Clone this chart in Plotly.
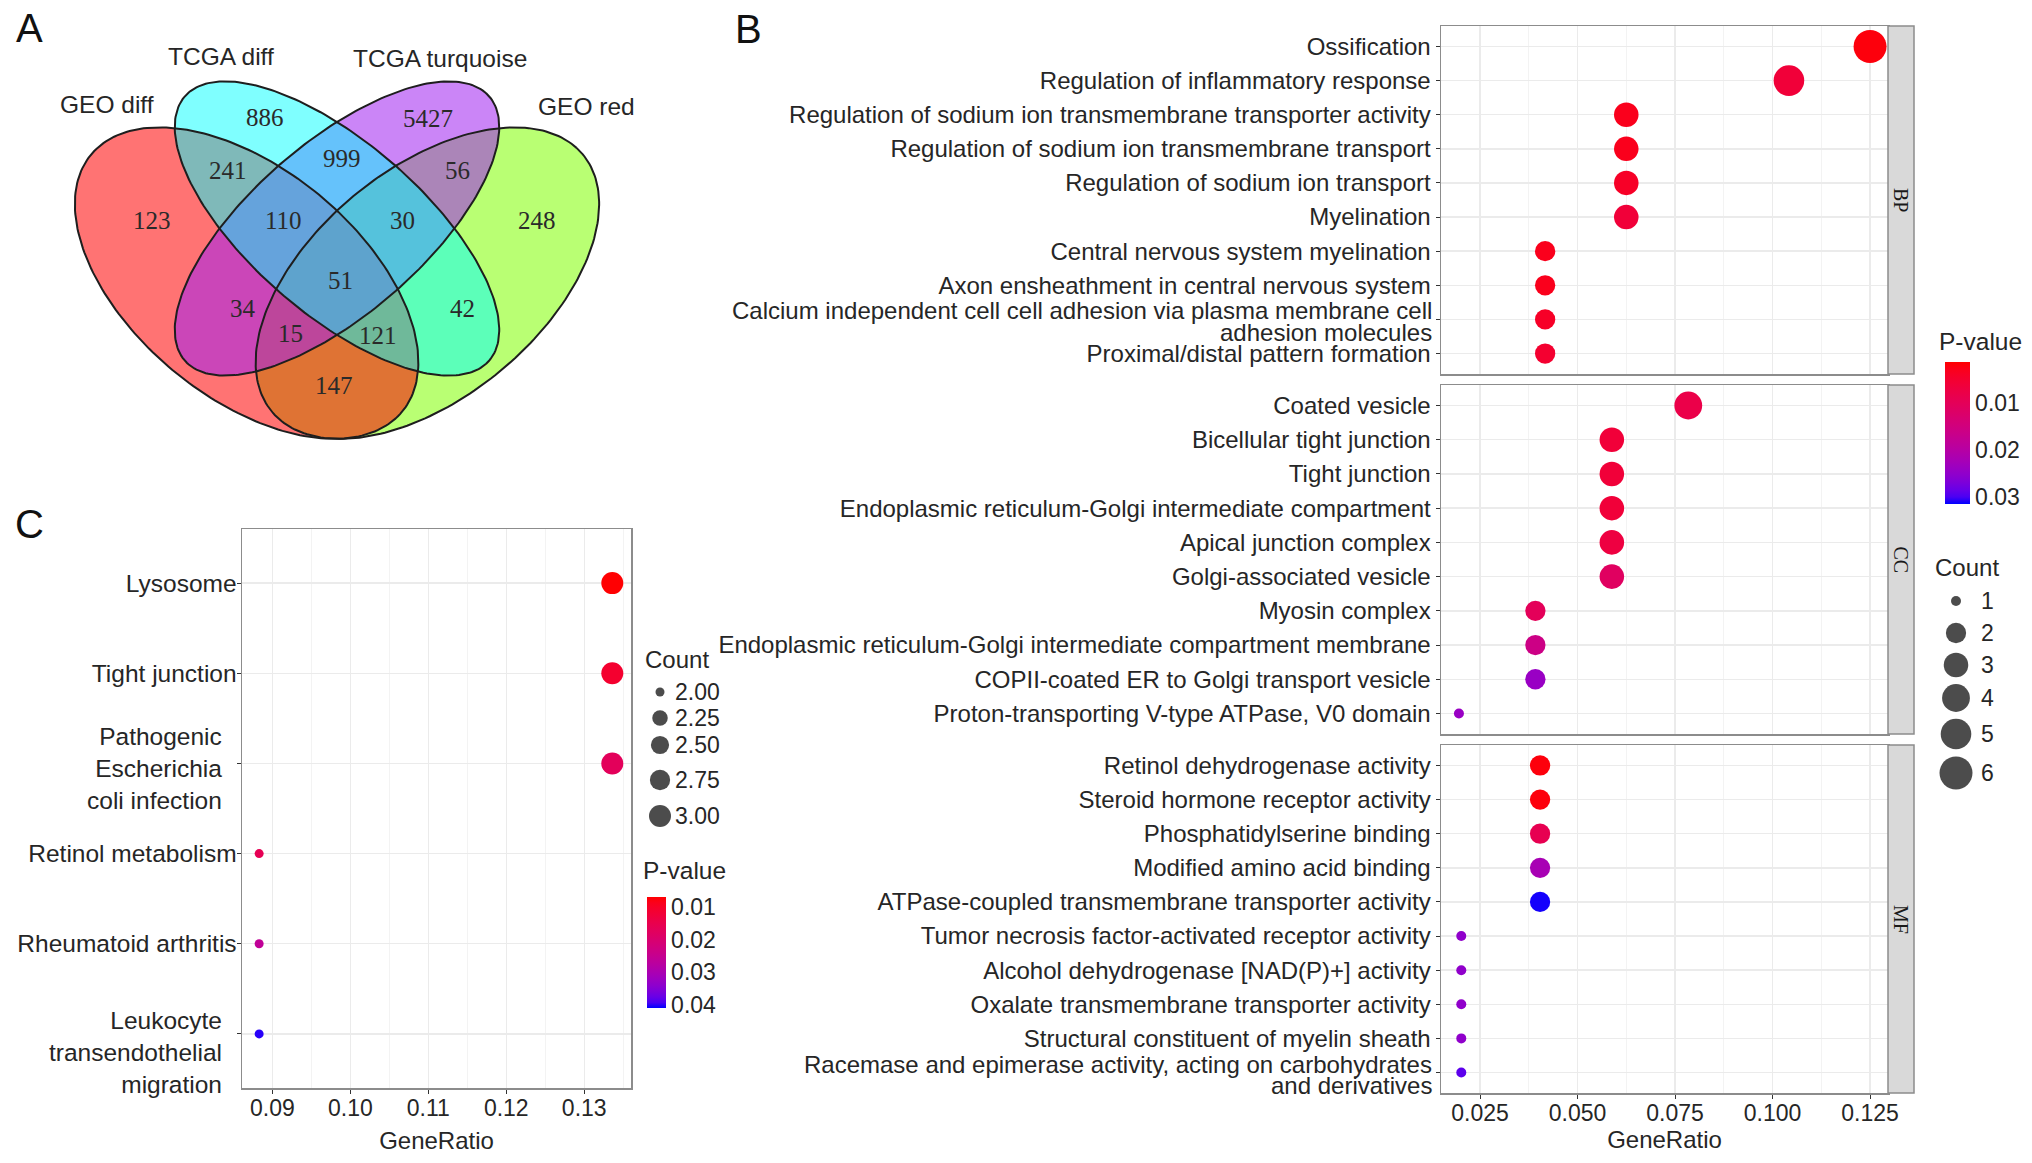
import numpy as np
import plotly.graph_objects as go

W, H = 2032, 1163

# ---------------- DATA ----------------
# Panel A: Venn diagram
venn_sets = ["GEO diff", "TCGA diff", "TCGA turquoise", "GEO red"]
venn_region_counts = [886, 5427, 241, 999, 56, 123, 110, 30, 248, 51, 34, 42, 15, 121, 147]

# Panel B: GO enrichment
bp_terms = ["Ossification", "Regulation of inflammatory response",
            "Regulation of sodium ion transmembrane transporter activity",
            "Regulation of sodium ion transmembrane transport",
            "Regulation of sodium ion transport", "Myelination",
            "Central nervous system myelination",
            "Axon ensheathment in central nervous system",
            "Calcium independent cell cell adhesion via plasma membrane cell<br>adhesion molecules",
            "Proximal/distal pattern formation"]
bp_ratio = [0.1250, 0.1042, 0.0625, 0.0625, 0.0625, 0.0625, 0.0417, 0.0417, 0.0417, 0.0417]
bp_count = [6, 5, 3, 3, 3, 3, 2, 2, 2, 2]
bp_pvalue = [0.002, 0.006, 0.003, 0.003, 0.004, 0.006, 0.003, 0.003, 0.004, 0.005]

cc_terms = ["Coated vesicle", "Bicellular tight junction", "Tight junction",
            "Endoplasmic reticulum-Golgi intermediate compartment",
            "Apical junction complex", "Golgi-associated vesicle", "Myosin complex",
            "Endoplasmic reticulum-Golgi intermediate compartment membrane",
            "COPII-coated ER to Golgi transport vesicle",
            "Proton-transporting V-type ATPase, V0 domain"]
cc_ratio = [0.0784, 0.0588, 0.0588, 0.0588, 0.0588, 0.0588, 0.0392, 0.0392, 0.0392, 0.0196]
cc_count = [4, 3, 3, 3, 3, 3, 2, 2, 2, 1]
cc_pvalue = [0.008, 0.006, 0.006, 0.006, 0.007, 0.011, 0.010, 0.016, 0.024, 0.024]

mf_terms = ["Retinol dehydrogenase activity", "Steroid hormone receptor activity",
            "Phosphatidylserine binding", "Modified amino acid binding",
            "ATPase-coupled transmembrane transporter activity",
            "Tumor necrosis factor-activated receptor activity",
            "Alcohol dehydrogenase [NAD(P)+] activity",
            "Oxalate transmembrane transporter activity",
            "Structural constituent of myelin sheath",
            "Racemase and epimerase activity, acting on carbohydrates<br>and derivatives"]
mf_ratio = [0.0404, 0.0404, 0.0404, 0.0404, 0.0404, 0.0202, 0.0202, 0.0202, 0.0202, 0.0202]
mf_count = [2, 2, 2, 2, 2, 1, 1, 1, 1, 1]
mf_pvalue = [0.002, 0.002, 0.009, 0.022, 0.031, 0.025, 0.025, 0.025, 0.025, 0.029]

go_facets = ["BP", "CC", "MF"]
go_count_legend = [1, 2, 3, 4, 5, 6]
go_p_ticks = [0.01, 0.02, 0.03]

# Panel C: KEGG enrichment
kegg_terms = ["Lysosome", "Tight junction", "Pathogenic<br>Escherichia<br>coli infection",
              "Retinol metabolism", "Rheumatoid arthritis",
              "Leukocyte<br>transendothelial<br>migration"]
kegg_ratio = [0.1336, 0.1336, 0.1336, 0.0883, 0.0883, 0.0883]
kegg_count = [3, 3, 3, 2, 2, 2]
kegg_pvalue = [0.007, 0.011, 0.017, 0.016, 0.026, 0.040]
kegg_count_legend = [2.00, 2.25, 2.50, 2.75, 3.00]
kegg_p_ticks = [0.01, 0.02, 0.03, 0.04]

# ---------------- STYLE HELPERS ----------------
FONT = "Liberation Sans, Arial, sans-serif"
SERIF = "Liberation Serif, Times New Roman, serif"
TXT = "#262626"
LAB_SIZE = 24


def rgb_to_lab(rgb):
    def lin(c):
        c = c / 255
        return c / 12.92 if c <= 0.04045 else ((c + 0.055) / 1.055) ** 2.4
    r, g, b = [lin(c) for c in rgb]
    X = (0.4124 * r + 0.3576 * g + 0.1805 * b) / 0.95047
    Y = 0.2126 * r + 0.7152 * g + 0.0722 * b
    Z = (0.0193 * r + 0.1192 * g + 0.9505 * b) / 1.08883
    f = lambda t: t ** (1 / 3) if t > 0.008856 else 7.787 * t + 16 / 116
    fx, fy, fz = f(X), f(Y), f(Z)
    return (116 * fy - 16, 500 * (fx - fy), 200 * (fy - fz))


def lab_to_rgb(lab):
    L, a, b = lab
    fy = (L + 16) / 116
    fx = fy + a / 500
    fz = fy - b / 200
    finv = lambda f: f ** 3 if f ** 3 > 0.008856 else (f - 16 / 116) / 7.787
    X, Y, Z = finv(fx) * 0.95047, finv(fy), finv(fz) * 1.08883
    r = 3.2406 * X - 1.5372 * Y - 0.4986 * Z
    g = -0.9689 * X + 1.8758 * Y + 0.0415 * Z
    bb = 0.0557 * X - 0.2040 * Y + 1.0570 * Z

    def gam(c):
        c = min(max(c, 0), 1)
        return 12.92 * c if c <= 0.0031308 else 1.055 * c ** (1 / 2.4) - 0.055
    return tuple(int(round(255 * gam(c))) for c in (r, g, bb))


def lab_scale(c0, c1, n=21):
    l0, l1 = rgb_to_lab(c0), rgb_to_lab(c1)
    out = []
    for i in range(n):
        t = i / (n - 1)
        r, g, b = lab_to_rgb(tuple(l0[k] + (l1[k] - l0[k]) * t for k in range(3)))
        out.append([t, f"rgb({r},{g},{b})"])
    return out


PSCALE = lab_scale((0, 0, 255), (255, 0, 0))  # high p (blue) -> low p (red)


def size_b(c):
    return 10 + 23 * np.sqrt((c - 1) / 5)


def size_c(c):
    return 9 + 13 * np.sqrt(c - 2)


def pxx(x):
    return x / W


def pxy(y):
    return 1 - y / H


fig = go.Figure()
annotations = []

# ---------------- PANEL B ----------------
B_X = (1441, 1888)
B_PANELS_Y = [(26, 374), (385, 734), (745, 1093)]
B_ROW_PX = (B_PANELS_Y[0][1] - B_PANELS_Y[0][0]) / 10.2
go_data = [(bp_terms, bp_ratio, bp_count, bp_pvalue),
           (cc_terms, cc_ratio, cc_count, cc_pvalue),
           (mf_terms, mf_ratio, mf_count, mf_pvalue)]

axis_layout = {}
for i, (terms, ratio, count, pval) in enumerate(go_data):
    k = i + 2
    fig.add_trace(go.Scatter(
        x=ratio, y=list(range(len(terms))), mode="markers",
        marker=dict(size=[size_b(c) for c in count], color=[-p for p in pval],
                    coloraxis="coloraxis", line=dict(width=0), opacity=1),
        xaxis=f"x{k}", yaxis=f"y{k}", showlegend=False, hoverinfo="skip"))
    y0, y1 = B_PANELS_Y[i]
    last = (i == 2)
    ticktext = []
    for j, term in enumerate(terms):
        if "<br>" in term:
            ticktext.append("")
            lines = term.split("<br>")
            offsets_px = [-8.5, 13.0]
            for line, off in zip(lines, offsets_px):
                annotations.append(dict(
                    x=pxx(B_X[0] - 7), xref="paper", xanchor="right",
                    y=j + off / B_ROW_PX, yref=f"y{k}", yanchor="middle",
                    text=line, showarrow=False,
                    font=dict(family=FONT, size=LAB_SIZE, color=TXT)))
        else:
            ticktext.append(term)
    axis_layout[f"xaxis{k}"] = dict(
        domain=[pxx(B_X[0]), pxx(B_X[1])], anchor=f"y{k}", range=[0.0150, 0.1296],
        tick0=0.025, dtick=0.025, tickformat=".3f",
        showgrid=True, gridcolor="#EBEBEB", gridwidth=1.4,
        minor=dict(dtick=0.0125, tick0=0.0125, showgrid=True, gridcolor="#F3F3F3", gridwidth=1),
        showline=True, mirror=True, linecolor="#8C8C8C", linewidth=1.5, zeroline=False,
        ticks="outside" if last else "", ticklen=4, tickcolor="#333333",
        showticklabels=last, ticklabelstandoff=-5,
        tickfont=dict(family=FONT, size=23, color=TXT),
        title=dict(text="GeneRatio" if last else "", font=dict(family=FONT, size=24, color=TXT), standoff=6),
        automargin=False, fixedrange=True)
    axis_layout[f"yaxis{k}"] = dict(
        domain=[pxy(y1), pxy(y0)], anchor=f"x{k}", range=[len(terms) - 0.4, -0.6],
        tickmode="array", tickvals=list(range(len(terms))), ticktext=ticktext,
        showgrid=True, gridcolor="#EBEBEB", gridwidth=1.4,
        showline=True, mirror=True, linecolor="#8C8C8C", linewidth=1.5, zeroline=False,
        ticks="outside", ticklen=4, tickcolor="#333333",
        tickfont=dict(family=FONT, size=LAB_SIZE, color=TXT), automargin=False, fixedrange=True)

# ---------------- PANEL C ----------------
C_X = (242, 631)
C_Y = (529, 1088)
C_ROW_PX = (C_Y[1] - C_Y[0]) / 6.2
kegg_label_shift_px = [0, 0, 5, 0, 0, 19]   # vertical nudge of wrapped labels
fig.add_trace(go.Scatter(
    x=kegg_ratio, y=list(range(len(kegg_terms))), mode="markers",
    marker=dict(size=[size_c(c) for c in kegg_count], color=[-p for p in kegg_pvalue],
                coloraxis="coloraxis2", line=dict(width=0), opacity=1),
    xaxis="x5", yaxis="y5", showlegend=False, hoverinfo="skip"))
kegg_ticktext = []
for j, term in enumerate(kegg_terms):
    if "<br>" in term:
        kegg_ticktext.append("")
        annotations.append(dict(
            x=pxx(224), xref="paper", xanchor="right",
            y=j + kegg_label_shift_px[j] / C_ROW_PX, yref="y5", yanchor="middle",
            text=term, align="right", showarrow=False,
            font=dict(family=FONT, size=24.5, color=TXT)))
    else:
        kegg_ticktext.append(term)
axis_layout["xaxis5"] = dict(
    domain=[pxx(C_X[0]), pxx(C_X[1])], anchor="y5", range=[0.0861, 0.1360],
    tick0=0.09, dtick=0.01, tickformat=".2f",
    showgrid=True, gridcolor="#EBEBEB", gridwidth=1.4,
    minor=dict(dtick=0.005, tick0=0.085, showgrid=True, gridcolor="#F3F3F3", gridwidth=1),
    showline=True, mirror=True, linecolor="#8C8C8C", linewidth=1.5, zeroline=False,
    ticks="outside", ticklen=4, tickcolor="#333333", ticklabelstandoff=-5,
    tickfont=dict(family=FONT, size=23, color=TXT),
    title=dict(text="GeneRatio", font=dict(family=FONT, size=24, color=TXT), standoff=12),
    automargin=False, fixedrange=True)
axis_layout["yaxis5"] = dict(
    domain=[pxy(C_Y[1]), pxy(C_Y[0])], anchor="x5", range=[len(kegg_terms) - 0.4, -0.6],
    tickmode="array", tickvals=list(range(len(kegg_terms))), ticktext=kegg_ticktext,
    showgrid=True, gridcolor="#EBEBEB", gridwidth=1.4,
    showline=True, mirror=True, linecolor="#8C8C8C", linewidth=1.5, zeroline=False,
    ticks="outside", ticklen=4, tickcolor="#333333", ticklabelstandoff=-5,
    tickfont=dict(family=FONT, size=24.5, color=TXT), automargin=False, fixedrange=True)

# ---------------- OVERLAY (pixel space) ----------------
axis_layout["xaxis6"] = dict(domain=[0, 1], range=[0, W], visible=False, anchor="y6",
                             automargin=False, fixedrange=True)
axis_layout["yaxis6"] = dict(domain=[0, 1], range=[H, 0], visible=False, anchor="x6",
                             automargin=False, fixedrange=True)

# Venn geometry (unit space, y downward) -> pixels
VX0, VSX, VY0, VSY = 337.0, 602.6, 81.5, 546.4
venn_shapes = {  # cx, cy, a, b, angle
    "GEO diff": (0.35, 0.53, 0.35, 0.20, 45),
    "TCGA diff": (0.50, 0.43, 0.35, 0.15, 45),
    "TCGA turquoise": (0.50, 0.43, 0.35, 0.15, -45),
    "GEO red": (0.65, 0.53, 0.35, 0.20, -45),
}
venn_fill = {
    "GEO diff": "rgba(255,0,0,0.55)",
    "TCGA diff": "rgba(0,255,255,0.5)",
    "TCGA turquoise": "rgba(160,32,240,0.55)",
    "GEO red": "rgba(127,255,0,0.55)",
}
draw_order = ["GEO red", "GEO diff", "TCGA turquoise", "TCGA diff"]


def ellipse_px(cx, cy, a, b, ang, n=240):
    t = np.linspace(0, 2 * np.pi, n)
    th = np.radians(ang)
    xu = cx + a * np.cos(t) * np.cos(th) - b * np.sin(t) * np.sin(th)
    yu = cy + a * np.cos(t) * np.sin(th) + b * np.sin(t) * np.cos(th)
    return VX0 + (xu - 0.5) * VSX, VY0 + (yu - 0.161) * VSY


for name in draw_order:
    ex, ey = ellipse_px(*venn_shapes[name])
    fig.add_trace(go.Scatter(x=ex, y=ey, mode="lines", fill="toself",
                             fillcolor=venn_fill[name], line=dict(width=0),
                             xaxis="x6", yaxis="y6", showlegend=False, hoverinfo="skip"))
for name in draw_order:
    ex, ey = ellipse_px(*venn_shapes[name])
    fig.add_trace(go.Scatter(x=ex, y=ey, mode="lines", line=dict(width=2, color="#1e1e1e"),
                             xaxis="x6", yaxis="y6", showlegend=False, hoverinfo="skip"))

venn_label_pos = [(265, 117), (428, 118), (228, 170), (342, 158), (457, 170),
                  (152, 220), (283, 220), (402, 220), (537, 220), (340, 280),
                  (243, 308), (462, 308), (290, 333), (378, 335), (334, 385)]
for val, (x, y) in zip(venn_region_counts, venn_label_pos):
    annotations.append(dict(x=x, y=y, xref="x6", yref="y6", text=str(val), showarrow=False,
                            font=dict(family=SERIF, size=25, color="#2a2a2a")))
venn_set_pos = [(107, 104), (221, 56), (440, 58), (586, 106)]
for name, (x, y) in zip(venn_sets, venn_set_pos):
    annotations.append(dict(x=x, y=y, xref="x6", yref="y6", text=name, showarrow=False,
                            font=dict(family=FONT, size=24.5, color=TXT)))

# Panel letters
for letter, (x, y) in zip(["A", "B", "C"], [(29, 28), (748, 29), (29, 524)]):
    annotations.append(dict(x=x, y=y, xref="x6", yref="y6", text=letter, showarrow=False,
                            font=dict(family=FONT, size=40, color="#111111")))

# Facet strips
shapes = []
for name, (y0, y1) in zip(go_facets, B_PANELS_Y):
    shapes.append(dict(type="rect", xref="x6", yref="y6", x0=1888, x1=1914, y0=y0, y1=y1,
                       fillcolor="#D9D9D9", line=dict(color="#8C8C8C", width=1.5), layer="above"))
    annotations.append(dict(x=1901, y=(y0 + y1) / 2, xref="x6", yref="y6", text=name,
                            textangle=90, showarrow=False,
                            font=dict(family=SERIF, size=20, color="#1a1a1a")))

# Panel B count legend
b_leg_y = [601, 633, 665, 698, 734, 773]
fig.add_trace(go.Scatter(x=[1956] * len(go_count_legend), y=b_leg_y, mode="markers",
                         marker=dict(size=[size_b(c) for c in go_count_legend], color="black",
                                     line=dict(width=0)),
                         xaxis="x6", yaxis="y6", showlegend=False, hoverinfo="skip"))
for c, y in zip(go_count_legend, b_leg_y):
    annotations.append(dict(x=1979, y=y, xref="x6", yref="y6", text=str(c), showarrow=False,
                            xanchor="left", font=dict(family=FONT, size=23, color=TXT)))
annotations.append(dict(x=1933, y=567, xref="x6", yref="y6", text="Count", showarrow=False,
                        xanchor="left", font=dict(family=FONT, size=24, color=TXT)))
annotations.append(dict(x=1937, y=341, xref="x6", yref="y6", text="P-value", showarrow=False,
                        xanchor="left", font=dict(family=FONT, size=24.5, color=TXT)))

# Panel C count legend
c_leg_y = [692, 718, 745, 780, 816]
fig.add_trace(go.Scatter(x=[660] * len(kegg_count_legend), y=c_leg_y, mode="markers",
                         marker=dict(size=[size_c(c) for c in kegg_count_legend], color="black",
                                     line=dict(width=0)),
                         xaxis="x6", yaxis="y6", showlegend=False, hoverinfo="skip"))
for c, y in zip(kegg_count_legend, c_leg_y):
    annotations.append(dict(x=673, y=y, xref="x6", yref="y6", text=f"{c:.2f}", showarrow=False,
                            xanchor="left", font=dict(family=FONT, size=23, color=TXT)))
annotations.append(dict(x=643, y=659, xref="x6", yref="y6", text="Count", showarrow=False,
                        xanchor="left", font=dict(family=FONT, size=24, color=TXT)))
annotations.append(dict(x=641, y=870, xref="x6", yref="y6", text="P-value", showarrow=False,
                        xanchor="left", font=dict(family=FONT, size=24.5, color=TXT)))

fig.update_layout(
    width=W, height=H, template="none",
    margin=dict(l=0, r=0, t=0, b=0, autoexpand=False),
    paper_bgcolor="white", plot_bgcolor="rgba(0,0,0,0)",
    showlegend=False,
    font=dict(family=FONT, color=TXT),
    coloraxis=dict(
        colorscale=PSCALE, cmin=-0.0314, cmax=-0.0013,
        colorbar=dict(x=pxx(1945), xanchor="left", xpad=0, ypad=0,
                      y=pxy(432.5), yanchor="middle", lenmode="pixels", len=141.6,
                      thicknessmode="pixels", thickness=25, outlinewidth=0,
                      tickmode="array", tickvals=[-t for t in go_p_ticks],
                      ticktext=[f"{t:.2f}" for t in go_p_ticks], ticks="",
                      tickfont=dict(family=FONT, size=23, color=TXT), title=dict(text=""))),
    coloraxis2=dict(
        colorscale=PSCALE, cmin=-0.0409, cmax=-0.0069,
        colorbar=dict(x=pxx(647), xanchor="left", xpad=0, ypad=0,
                      y=pxy(952.5), yanchor="middle", lenmode="pixels", len=111,
                      thicknessmode="pixels", thickness=19, outlinewidth=0,
                      tickmode="array", tickvals=[-t for t in kegg_p_ticks],
                      ticktext=[f"{t:.2f}" for t in kegg_p_ticks], ticks="",
                      tickfont=dict(family=FONT, size=23, color=TXT), title=dict(text=""))),
    annotations=annotations, shapes=shapes,
    **axis_layout,
)

fig.write_html("out.html", config={"displayModeBar": False, "staticPlot": True},
               post_script="document.body.style.margin='0';document.body.style.overflow='hidden';")
